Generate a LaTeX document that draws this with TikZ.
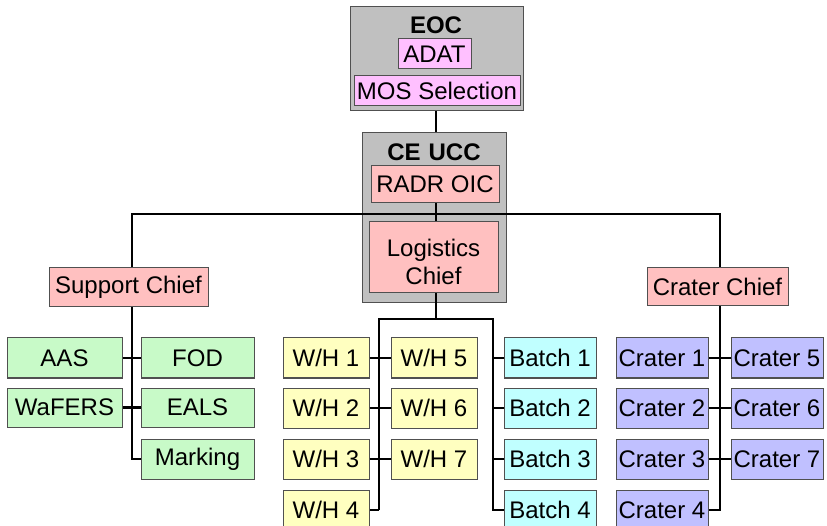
\documentclass[tikz,border=0pt]{standalone}
\usepackage{fontspec}
\setmainfont{Liberation Sans}
\definecolor{grayfill}{HTML}{C0C0C0}
\definecolor{pinkfill}{HTML}{FFC0C0}
\definecolor{violetfill}{HTML}{FFC0FF}
\definecolor{greenfill}{HTML}{C8FAC8}
\definecolor{yellowfill}{HTML}{FFFFC0}
\definecolor{cyanfill}{HTML}{C0FFFF}
\definecolor{lavfill}{HTML}{C0C0FF}
\definecolor{boxline}{HTML}{505050}
\tikzset{
  box/.style={draw=boxline, line width=1pt, rectangle, inner sep=0pt, font=\fontsize{24}{28}\selectfont, text=black},
  grp/.style={box, fill=grayfill},
  pinkbox/.style={box, fill=pinkfill},
  vbox/.style={box, fill=violetfill},
  gbox/.style={box, fill=greenfill, minimum height=40pt},
  ybox/.style={box, fill=yellowfill, minimum width=86pt, minimum height=40pt},
  cbox/.style={box, fill=cyanfill, minimum width=92pt, minimum height=40pt},
  lbox/.style={box, fill=lavfill, minimum width=92pt, minimum height=40pt},
  conn/.style={line width=2.2pt, black},
  title/.style={font=\fontsize{24}{26}\selectfont\bfseries, inner sep=0pt},
  lbl/.style={font=\fontsize{24}{28}\selectfont, inner sep=0pt, align=center}
}
\begin{document}
\begin{tikzpicture}[x=1pt,y=-1pt]
\useasboundingbox[fill=white] (0,0) rectangle (827,526);
% top groups
\node[grp, minimum width=173pt, minimum height=104pt] (eoc) at (436.5,59) {};
\node[title] (eoct) at (436,25) {EOC};
\node[vbox, minimum width=73pt, minimum height=30pt] (adat) at (434.5,54) {ADAT};
\node[vbox, minimum width=166pt, minimum height=30pt] (mos) at (437,91) {MOS Selection};
\node[grp, minimum width=144pt, minimum height=170pt] (ucc) at (434,218) {};
\node[title] (ucct) at (434,152) {CE\hspace{8pt}UCC};
\node[pinkbox, minimum width=128pt, minimum height=37pt] (radr) at (435,184.5) {RADR OIC};
\node[pinkbox, minimum width=129pt, minimum height=71pt] (log) at (433.5,257.5) {};
\node[lbl] (logt) at (433.5,262) {Logistics\\Chief};
\node[pinkbox, minimum width=159pt, minimum height=39pt] (sup) at (128.5,287.5) {Support Chief};
\node[pinkbox, minimum width=141pt, minimum height=38pt] (crat) at (717.5,287) {Crater Chief};
% support children
\node[gbox, minimum width=115pt] (aas) at (64.5,358) {AAS};
\node[gbox, minimum width=113pt] (fod) at (197.5,358) {FOD};
\node[gbox, minimum width=115pt, minimum height=39pt] (wafers) at (64.5,407.5) {WaFERS};
\node[gbox, minimum width=113pt, minimum height=39pt] (eals) at (197.5,407.5) {EALS};
\node[gbox, minimum width=113pt] (mark) at (197.5,459) {Marking};
% logistics children
\node[ybox] (wh1) at (326,358) {W/H 1};
\node[ybox] (wh2) at (326,408) {W/H 2};
\node[ybox] (wh3) at (326,459) {W/H 3};
\node[ybox] (wh4) at (326,510) {W/H 4};
\node[ybox] (wh5) at (434,358) {W/H 5};
\node[ybox] (wh6) at (434,408) {W/H 6};
\node[ybox] (wh7) at (434,459) {W/H 7};
\node[cbox] (b1) at (550,358) {Batch 1};
\node[cbox] (b2) at (550,408) {Batch 2};
\node[cbox] (b3) at (550,459) {Batch 3};
\node[cbox] (b4) at (550,510) {Batch 4};
% crater children
\node[lbox] (c1) at (662,358) {Crater 1};
\node[lbox] (c2) at (662,408) {Crater 2};
\node[lbox] (c3) at (662,459) {Crater 3};
\node[lbox] (c4) at (662,510) {Crater 4};
\node[lbox] (c5) at (777,358) {Crater 5};
\node[lbox] (c6) at (777,408) {Crater 6};
\node[lbox] (c7) at (777,459) {Crater 7};
% trunk coordinates
\coordinate (hl) at (132,214);
\coordinate (hr) at (720,214);
\coordinate (hm) at (436,214);
\coordinate (lm) at (436,319);
\coordinate (ll) at (379,319);
\coordinate (lr) at (493,319);
% connectors
\draw[conn] (eoc.south -| hm) -- (ucc.north -| hm);
\draw[conn] (radr.south -| hm) -- (log.north -| hm);
\draw[conn] (hl |- sup.north) -- (hl) -- (hr) -- (hr |- crat.north);
\draw[conn] (hl |- sup.south) -- (hl |- mark.west) -- (mark.west);
\draw[conn] (aas.east) -- (fod.west);
\draw[conn] (wafers.east) -- (eals.west);
\draw[conn] (log.south -| hm) -- (lm);
\draw[conn] (ll |- wh4.east) -- (ll) -- (lr) -- (lr |- b4.west) -- (b4.west);
\draw[conn] (ll |- wh4.east) -- (wh4.east);
\draw[conn] (wh1.east) -- (wh5.west);
\draw[conn] (wh2.east) -- (wh6.west);
\draw[conn] (wh3.east) -- (wh7.west);
\draw[conn] (lr |- b1.west) -- (b1.west);
\draw[conn] (lr |- b2.west) -- (b2.west);
\draw[conn] (lr |- b3.west) -- (b3.west);
\draw[conn] (hr |- crat.south) -- (hr |- c4.east) -- (c4.east);
\draw[conn] (c1.east) -- (c5.west);
\draw[conn] (c2.east) -- (c6.west);
\draw[conn] (c3.east) -- (c7.west);
\end{tikzpicture}
\end{document}
